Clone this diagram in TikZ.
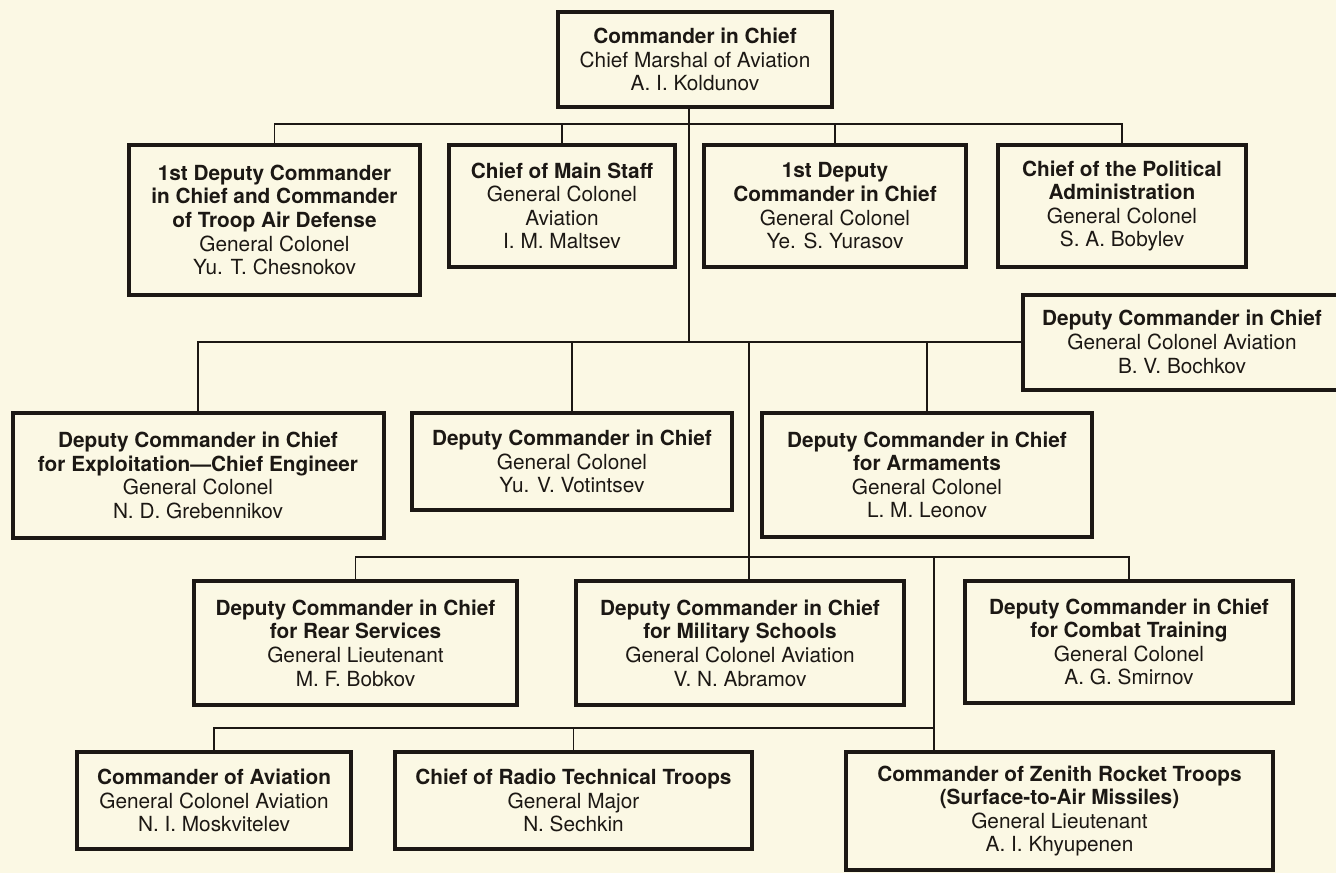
\documentclass[tikz,border=0pt]{standalone}
\usepackage{fontspec}
\setmainfont{TeX Gyre Heros}
\usetikzlibrary{positioning}
\definecolor{paper}{RGB}{251,248,228}
\definecolor{ink}{RGB}{28,24,20}

\begin{document}
\begin{tikzpicture}[x=1pt,y=-1pt,
  post/.style={draw=ink,line width=4pt,fill=paper,align=center,inner sep=0pt,
    text=ink,font=\fontsize{20.8}{23.6}\selectfont},
  link/.style={draw=ink,line width=1.4pt}]
  \useasboundingbox (0,0) rectangle (1336,873);
  \fill[paper] (0,0) rectangle (1336,873);
  \node[post,minimum width=274,minimum height=95] (cinc) at (695,59.5)
    {\textbf{Commander in Chief}\\Chief Marshal of Aviation\\A. I. Koldunov};
  % second row
  \node[post,minimum width=291,minimum height=150] (dep1) at (274.5,220)
    {\textbf{1st Deputy Commander}\\\textbf{in Chief and Commander}\\\textbf{of Troop Air Defense}\\General Colonel\\Yu. T. Chesnokov};
  \node[post,minimum width=226,minimum height=122] (staff) at (562,206)
    {\textbf{Chief of Main Staff}\\General Colonel\\Aviation\\I. M. Maltsev};
  \node[post,minimum width=262,minimum height=122] (dep2) at (835,206)
    {\textbf{1st Deputy}\\\textbf{Commander in Chief}\\General Colonel\\Ye. S. Yurasov};
  \node[post,minimum width=248,minimum height=122] (polit) at (1122,206)
    {\textbf{Chief of the Political}\\\textbf{Administration}\\General Colonel\\S. A. Bobylev};
  \node[post,minimum width=318,minimum height=95] (bochkov) at (1182,342)
    {\textbf{Deputy Commander in Chief}\\General Colonel Aviation\\B. V. Bochkov};
  % third row
  \node[post,minimum width=371,minimum height=125] (exploit) at (198,475.5)
    {\textbf{Deputy Commander in Chief}\\\textbf{for Exploitation---Chief Engineer}\\General Colonel\\N. D. Grebennikov};
  \node[post,minimum width=320,minimum height=97] (votin) at (572,461.5)
    {\textbf{Deputy Commander in Chief}\\General Colonel\\Yu. V. Votintsev};
  \node[post,minimum width=330,minimum height=124] (arm) at (927,475)
    {\textbf{Deputy Commander in Chief}\\\textbf{for Armaments}\\General Colonel\\L. M. Leonov};
  % fourth row
  \node[post,minimum width=323,minimum height=124] (rear) at (355.5,643)
    {\textbf{Deputy Commander in Chief}\\\textbf{for Rear Services}\\General Lieutenant\\M. F. Bobkov};
  \node[post,minimum width=328,minimum height=124] (schools) at (740,643)
    {\textbf{Deputy Commander in Chief}\\\textbf{for Military Schools}\\General Colonel Aviation\\V. N. Abramov};
  \node[post,minimum width=328,minimum height=122] (combat) at (1129,642)
    {\textbf{Deputy Commander in Chief}\\\textbf{for Combat Training}\\General Colonel\\A. G. Smirnov};
  % fifth row
  \node[post,minimum width=274,minimum height=97] (aviat) at (214,800.5)
    {\textbf{Commander of Aviation}\\General Colonel Aviation\\N. I. Moskvitelev};
  \node[post,minimum width=357,minimum height=97] (radio) at (573.5,800.5)
    {\textbf{Chief of Radio Technical Troops}\\General Major\\N. Sechkin};
  \node[post,minimum width=427,minimum height=118] (zenith) at (1059.5,811)
    {\textbf{Commander of Zenith Rocket Troops}\\\textbf{(Surface-to-Air Missiles)}\\General Lieutenant\\A. I. Khyupenen};

  \coordinate (j1) at (689,124);
  \coordinate (j2) at (689,342);
  \coordinate (j3) at (749,342);
  \coordinate (j4) at (749,557);
  \coordinate (j5) at (934,557);
  \coordinate (j6) at (934,728);

  \draw[link] (cinc.south -| j1) -- (j2);
  \draw[link] (dep1.north) |- (j1) -| (polit.north);
  \draw[link] (staff.north) -- (staff.north |- j1);
  \draw[link] (dep2.north) -- (dep2.north |- j1);
  \draw[link] (exploit.north) |- (bochkov.west);
  \draw[link] (votin.north) -- (votin.north |- j2);
  \draw[link] (arm.north) -- (arm.north |- j2);
  \draw[link] (j3) -- (j3 |- schools.north);
  \draw[link] (rear.north) |- (combat.north |- j4) -- (combat.north);
  \draw[link] (j5) -- (j5 |- zenith.north);
  \draw[link] (aviat.north) |- (j6);
  \draw[link] (radio.north) -- (radio.north |- j6);
\end{tikzpicture}
\end{document}
